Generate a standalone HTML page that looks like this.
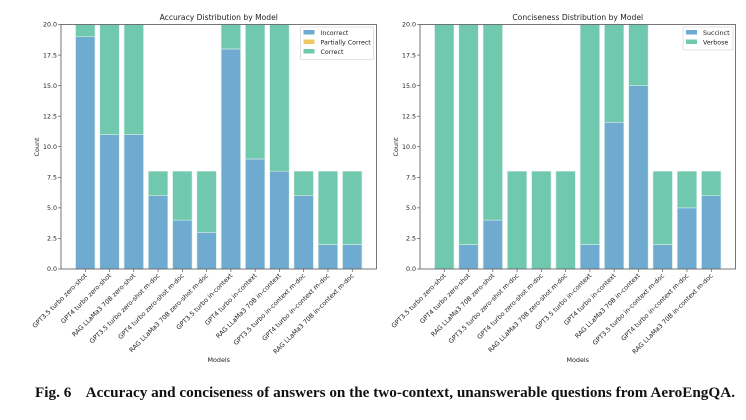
<!DOCTYPE html>
<html><head><meta charset="utf-8"><style>
body{margin:0;background:#fff;width:746px;height:420px;overflow:hidden}
svg{display:block}
text{font-family:"DejaVu Sans","Liberation Sans",sans-serif;fill:#222}
</style></head><body>
<svg id="fig" width="746" height="420" viewBox="0 0 746 420">
<text x="385" y="397" text-anchor="middle" textLength="700" lengthAdjust="spacingAndGlyphs" style="font-family:'Liberation Serif',serif;font-weight:bold;font-size:15px;fill:#111;white-space:pre">Fig. 6    Accuracy and conciseness of answers on the two-context, unanswerable questions from AeroEngQA.</text>
</svg>
<script>
const models=["GPT3.5 turbo zero-shot","GPT4 turbo zero-shot","RAG LLaMa3 70B zero-shot","GPT3.5 turbo zero-shot m-doc","GPT4 turbo zero-shot m-doc","RAG LLaMa3 70B zero-shot m-doc","GPT3.5 turbo in-context","GPT4 turbo in-context","RAG LLaMa3 70B in-context","GPT3.5 turbo in-context m-doc","GPT4 turbo in-context m-doc","RAG LLaMa3 70B in-context m-doc"];
const incorrect=[19,11,11,6,4,3,18,9,8,6,2,2];
const partial=[0,0,0,0,0,0,0,0,0,0,0,0];
const correct=[1,9,9,2,4,5,2,11,12,2,6,6];
const succinct=[0,2,4,0,0,0,2,12,15,2,5,6];
const verbose=[20,18,16,8,8,8,18,8,5,6,3,2];
const yTicks=[0,2.5,5,7.5,10,12.5,15,17.5,20];
const yTickLabels=["0.0","2.5","5.0","7.5","10.0","12.5","15.0","17.5","20.0"];
const BLUE="#6faad0",YEL="#f0c860",GRN="#70c8ae";
const NS="http://www.w3.org/2000/svg";
const svg=document.getElementById('fig');
function mk(t,a,p){const e=document.createElementNS(NS,t);for(const k in a)e.setAttribute(k,a[k]);(p||svg).appendChild(e);return e;}
function panel(id,x0,x1,title,series,legend,legBox){
  const top=24.5,bot=269,ymax=20;
  const g=mk('g',{});
  
  
  const y=v=>bot-(v/ymax)*(bot-top);
  const n=models.length,step=(x1-x0)/(n+1),xc=i=>x0+step*(1+i),bw=step*0.8;
  for(let i=0;i<n;i++){
    let acc=0;
    series.forEach(s=>{
      const v=s.vals[i];
      if(v>0){
        const r=mk('rect',{x:xc(i)-bw/2,y:y(acc+v),width:bw,height:y(acc)-y(acc+v),fill:s.color,stroke:'#d8eee6','stroke-width':0.6},g);
        
        
      }
      acc+=v;
    });
  }
  const fr=mk('rect',{x:x0,y:top,width:x1-x0,height:bot-top,fill:'none',stroke:'#555','stroke-width':0.8},g);
  
  
  yTicks.forEach((v,k)=>{
    mk('line',{x1:x0-3,x2:x0,y1:y(v),y2:y(v),stroke:'#444','stroke-width':0.6},g);
    const t=mk('text',{x:x0-4,y:y(v)+2.2,'text-anchor':'end','font-size':6.3},g);
    t.textContent=yTickLabels[k];
    
    
  });
  for(let i=0;i<n;i++){
    mk('line',{x1:xc(i),x2:xc(i),y1:bot,y2:bot+3,stroke:'#444','stroke-width':0.6},g);
    const t=mk('text',{x:xc(i)+2,y:bot+7,'text-anchor':'end','font-size':6.4,transform:`rotate(-45 ${xc(i)+2} ${bot+7})`},g);
    t.textContent=models[i];
    
    
  }
  const tt=mk('text',{x:(x0+x1)/2,y:20,'text-anchor':'middle','font-size':7.6},g);
  tt.textContent=title;
  
  
  const xl=mk('text',{x:(x0+x1)/2,y:362,'text-anchor':'middle','font-size':6.4},g);
  xl.textContent='Models';
  
  
  const yl=mk('text',{x:0,y:0,'text-anchor':'middle','font-size':6.4,transform:`translate(${x0-22} 147) rotate(-90)`},g);
  yl.textContent='Count';
  
  
  const lb=mk('rect',{x:legBox[0],y:27,width:legBox[1],height:9.5*legend.length+4,fill:'#fff',stroke:'#ccc','stroke-width':0.6,rx:1.5},g);
  
  
  legend.forEach((s,k)=>{
    mk('rect',{x:legBox[0]+3,y:30+9.5*k,width:11,height:4.5,fill:s.color},g);
    const t=mk('text',{x:legBox[0]+20,y:35+9.5*k,'font-size':6.3},g);
    t.textContent=s.label;
    
    
  });
}
panel('accuracy-chart',61,376.5,'Accuracy Distribution by Model',
  [{key:'incorrect',vals:incorrect,color:BLUE},{key:'partial',vals:partial,color:YEL},{key:'correct',vals:correct,color:GRN}],
  [{label:'Incorrect',color:BLUE},{label:'Partially Correct',color:YEL},{label:'Correct',color:GRN}],[300.5,73]);
panel('conciseness-chart',420,735.5,'Conciseness Distribution by Model',
  [{key:'succinct',vals:succinct,color:BLUE},{key:'verbose',vals:verbose,color:GRN}],
  [{label:'Succinct',color:BLUE},{label:'Verbose',color:GRN}],[683,50]);
</script>
</body></html>
